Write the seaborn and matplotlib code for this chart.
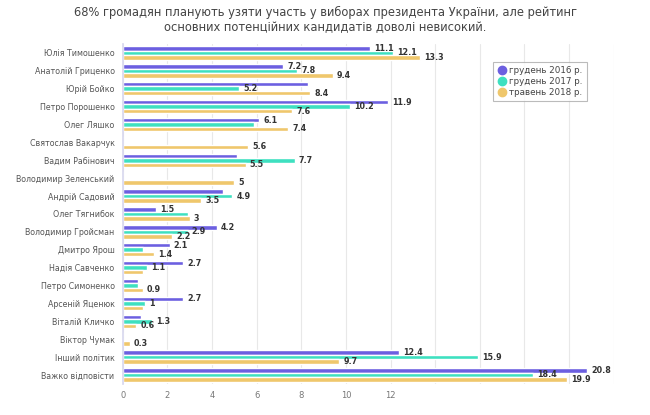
import matplotlib
matplotlib.use("Agg")
import matplotlib.pyplot as plt
import numpy as np
import pandas as pd
import seaborn as sns
from matplotlib.lines import Line2D

names = ["Юлія Тимошенко", "Анатолій Гриценко", "Юрій Бойко", "Петро Порошенко",
         "Олег Ляшко", "Святослав Вакарчук", "Вадим Рабінович", "Володимир Зеленський",
         "Андрій Садовий", "Олег Тягнибок", "Володимир Гройсман", "Дмитро Ярош",
         "Надія Савченко", "Петро Симоненко", "Арсеній Яценюк", "Віталій Кличко",
         "Віктор Чумак", "Інший політик", "Важко відповісти"]
periods = ["грудень 2016 р.", "грудень 2017 р.", "травень 2018 р."]
dec_2016 = [11.1, 7.2, 8.3, 11.9, 6.1, np.nan, 5.1, np.nan, 4.5, 1.5, 4.2, 2.1,
            2.7, 0.7, 2.7, 0.8, np.nan, 12.4, 20.8]
dec_2017 = [12.1, 7.8, 5.2, 10.2, 5.9, np.nan, 7.7, np.nan, 4.9, 2.9, 2.9, 0.9,
            1.1, 0.7, 1.0, 1.3, np.nan, 15.9, 18.4]
may_2018 = [13.3, 9.4, 8.4, 7.6, 7.4, 5.6, 5.5, 5.0, 3.5, 3.0, 2.2, 1.4,
            0.9, 0.9, 0.9, 0.6, 0.3, 9.7, 19.9]
# which value labels the original chart shows (others hidden by overlap)
show_2016 = [1, 1, 0, 1, 1, 0, 0, 0, 0, 1, 1, 1, 1, 0, 1, 0, 0, 1, 1]
show_2017 = [1, 1, 1, 1, 0, 0, 1, 0, 1, 0, 1, 0, 1, 0, 1, 1, 0, 1, 1]
show_2018 = [1, 1, 1, 1, 1, 1, 1, 1, 1, 1, 1, 1, 0, 1, 0, 1, 1, 1, 1]

colors = ["#6c5fe0", "#3ee0c0", "#efc76c"]

series = [dec_2016, dec_2017, may_2018]
shows = [show_2016, show_2017, show_2018]
df = pd.DataFrame({
    "name": names * 3,
    "period": np.repeat(periods, len(names)),
    "value": dec_2016 + dec_2017 + may_2018,
})
df["value"] = df["value"].fillna(0)  # not surveyed -> no bar

sns.set_theme(style="white")
plt.rcParams["font.family"] = ["DejaVu Sans"]

fig = plt.figure(figsize=(6.5, 4.15), dpi=100)
ax = fig.add_axes([0.189, 0.075, 0.755, 0.819])

sns.barplot(data=df, y="name", x="value", hue="period", order=names, hue_order=periods,
            palette=colors, orient="h", width=0.75, saturation=1, ax=ax, legend=False)

for cont, vals, show in zip(ax.containers, series, shows):
    labels = ["" if (np.isnan(v) or not s) else f"{v:g}" for v, s in zip(vals, show)]
    ax.bar_label(cont, labels=labels, padding=3, fontsize=5.8, fontweight="bold", color="#333333")

ax.set_xlim(0, 22)
ax.set_ylim(len(names) - 0.5, -0.5)
ax.set_xticks(np.arange(0, 23, 2))
ax.set_xticklabels([str(t) if t <= 12 else "" for t in range(0, 23, 2)])
ax.grid(axis="x", color="#e8e8e8", lw=0.8)
ax.set_axisbelow(True)
for side in ["top", "right", "bottom"]:
    ax.spines[side].set_visible(False)
ax.spines["left"].set_color("#d8d8ee")
ax.tick_params(axis="y", labelsize=5.7, colors="#555555", length=0, pad=6)
ax.tick_params(axis="x", labelsize=6, colors="#777777", length=0, pad=5)
ax.set_xlabel("")
ax.set_ylabel("")

handles = [Line2D([0], [0], marker="o", ls="", markersize=6, markerfacecolor=c,
                  markeredgecolor=c) for c in colors]
leg = ax.legend(handles, periods, loc="upper left", bbox_to_anchor=(0.745, 0.96),
                fontsize=6.3, frameon=True, fancybox=False, shadow=False,
                handletextpad=0.2, borderpad=0.5, labelspacing=0.2, handlelength=1.2)
leg.get_frame().set_edgecolor("#aaaaaa")
leg.get_frame().set_linewidth(0.8)
for t in leg.get_texts():
    t.set_color("#444444")

fig.text(0.5, 0.970, "68% громадян планують узяти участь у виборах президента України, але рейтинг",
         ha="center", va="center", fontsize=8.3, color="#444444")
fig.text(0.5, 0.934, "основних потенційних кандидатів доволі невисокий.",
         ha="center", va="center", fontsize=8.3, color="#444444")

fig.savefig("out.png", dpi=100)
